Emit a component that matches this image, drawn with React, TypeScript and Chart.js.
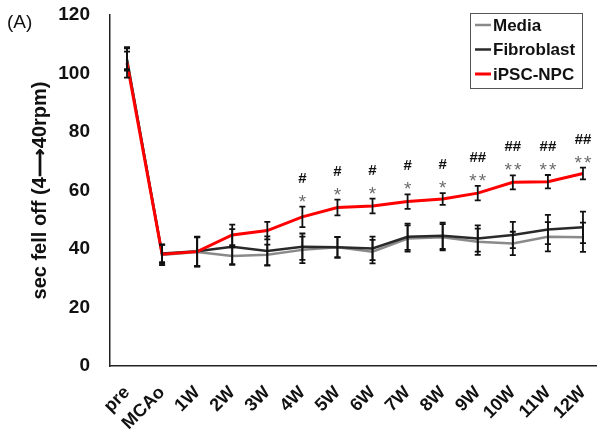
import React, { useEffect, useRef } from "react";
import { Chart, registerables } from "chart.js";

Chart.register(...registerables);

const categories = ["pre", "MCAo", "1W", "2W", "3W", "4W", "5W", "6W", "7W", "8W", "9W", "10W", "11W", "12W"];
const mediaValues = [105, 38, 39, 37.6, 38, 39.7, 40.6, 39.1, 43.6, 44, 42.5, 41.9, 44.2, 44];
const mediaErrors = [4, 3.5, 5, 3, 3.5, 4.5, 3.5, 4, 4.5, 4.5, 4.5, 4, 5, 5];
const fibroblastValues = [104.5, 38.5, 39.2, 40.8, 39.3, 40.8, 40.6, 40.2, 44.2, 44.5, 43.6, 44.8, 46.7, 47.4];
const fibroblastErrors = [3, 3, 5, 6, 5, 4.5, 3.5, 4, 4.5, 4.5, 4.5, 4.5, 5, 5.4];
const ipscValues = [103.6, 38.2, 39.1, 44.8, 46.3, 51.0, 54.2, 54.7, 56.2, 57.1, 59.1, 62.8, 63.0, 65.8];
const ipscErrors = [5, 3.3, 5, 3.5, 3, 3.5, 2.7, 2.5, 2.5, 2, 2.5, 2.4, 2.3, 2];
const starMarks = ["", "", "", "", "", "*", "*", "*", "*", "*", "**", "**", "**", "**"];
const hashMarks = ["", "", "", "", "", "#", "#", "#", "#", "#", "##", "##", "##", "##"];
const yTicks = [0, 20, 40, 60, 80, 100, 120];
const panelLabel = "(A)";
const yTitle = "sec fell off (4\u27F640rpm)";

const FONT = "'Liberation Sans', Arial, sans-serif";

const errorBarPlugin = {
  id: "errorBars",
  afterDatasetsDraw(chart: any) {
    const { ctx } = chart;
    const xs = chart.scales.x;
    const ys = chart.scales.y;
    ctx.save();
    chart.data.datasets.forEach((ds: any) => {
      const errs: number[] = ds.errors || [];
      ds.data.forEach((pt: any, i: number) => {
        const e = errs[i];
        if (e == null) return;
        const x = xs.getPixelForValue(pt.x);
        const yT = ys.getPixelForValue(pt.y + e);
        const yB = ys.getPixelForValue(pt.y - e);
        ctx.strokeStyle = "#111";
        ctx.lineWidth = 1.8;
        ctx.beginPath();
        ctx.moveTo(x, yT);
        ctx.lineTo(x, yB);
        ctx.moveTo(x - 3, yT);
        ctx.lineTo(x + 3, yT);
        ctx.moveTo(x - 3, yB);
        ctx.lineTo(x + 3, yB);
        ctx.stroke();
      });
    });
    ctx.restore();
  },
};

const annotationPlugin = {
  id: "sigMarks",
  afterDraw(chart: any) {
    const { ctx } = chart;
    const xs = chart.scales.x;
    const ys = chart.scales.y;
    ctx.save();
    ctx.textAlign = "center";
    ctx.textBaseline = "alphabetic";
    categories.forEach((_, i) => {
      const x = xs.getPixelForValue(i);
      const top = ys.getPixelForValue(ipscValues[i] + ipscErrors[i]);
      const stars = starMarks[i];
      const hashes = hashMarks[i];
      if (stars) {
        ctx.fillStyle = "#6a6a6a";
        ctx.font = `19px ${FONT}`;
        const n = stars.length;
        for (let k = 0; k < n; k++) {
          ctx.fillText("*", x + (k - (n - 1) / 2) * 9.5, top + 1);
        }
      }
      if (hashes) {
        ctx.fillStyle = "#111";
        ctx.font = `bold 15px ${FONT}`;
        ctx.fillText(hashes, x, top - 24);
      }
    });
    // panel label
    ctx.fillStyle = "#111";
    ctx.font = `19px ${FONT}`;
    ctx.textAlign = "left";
    ctx.textBaseline = "middle";
    ctx.fillText(panelLabel, 7, 23);
    // legend
    const bx = 470, by = 13, bw = 112, bh = 75;
    ctx.strokeStyle = "#555";
    ctx.lineWidth = 1;
    ctx.strokeRect(bx + 0.5, by + 0.5, bw, bh);
    chart.data.datasets.forEach((ds: any, i: number) => {
      const cy = by + 12 + i * 24.5;
      ctx.strokeStyle = ds.borderColor;
      ctx.lineWidth = ds.borderWidth;
      ctx.beginPath();
      ctx.moveTo(bx + 5, cy);
      ctx.lineTo(bx + 21, cy);
      ctx.stroke();
      ctx.fillStyle = "#111";
      ctx.font = `bold 17px ${FONT}`;
      ctx.textAlign = "left";
      ctx.fillText(ds.label, bx + 23, cy + 1);
    });
    ctx.restore();
  },
};

export default function App() {
  const ref = useRef<HTMLCanvasElement>(null);
  useEffect(() => {
    if (!ref.current) return;
    const mk = (vals: number[]) => vals.map((v, i) => ({ x: i, y: v }));
    const chart = new Chart(ref.current, {
      type: "line",
      data: {
        datasets: [
          { label: "Media", data: mk(mediaValues), errors: mediaErrors, borderColor: "#8a8a8a", borderWidth: 2.5, order: 2 } as any,
          { label: "Fibroblast", data: mk(fibroblastValues), errors: fibroblastErrors, borderColor: "#2a2a2a", borderWidth: 2.5, order: 1 } as any,
          { label: "iPSC-NPC", data: mk(ipscValues), errors: ipscErrors, borderColor: "#ff0000", borderWidth: 3, order: 0 } as any,
        ],
      },
      options: {
        animation: false,
        responsive: false,
        maintainAspectRatio: false,
        elements: { point: { radius: 0 }, line: { tension: 0, fill: false } },
        layout: { padding: { top: 0, right: 0, bottom: 0, left: 0 } },
        plugins: { legend: { display: false }, tooltip: { enabled: false } },
        scales: {
          x: {
            type: "linear",
            min: -0.485,
            max: 13.4,
            afterBuildTicks: (s: any) => {
              s.ticks = categories.map((_, i) => ({ value: i }));
            },
            afterFit: (s: any) => {
              s.height = 75;
              s.paddingRight = 0;
            },
            grid: { display: false, drawTicks: false },
            border: { display: true, color: "#222", width: 1.5 },
            ticks: {
              autoSkip: false,
              maxRotation: 45,
              minRotation: 45,
              padding: 16,
              color: "#111",
              font: { family: FONT, size: 18, weight: "bold" },
              callback: (v: any) => categories[v] ?? "",
            },
          },
          y: {
            min: 0,
            max: 120,
            afterBuildTicks: (s: any) => {
              s.ticks = yTicks.map((v) => ({ value: v }));
            },
            afterFit: (s: any) => {
              s.width = 110;
              s.paddingTop = 15;
            },
            grid: { display: false, drawTicks: false },
            border: { display: true, color: "#222", width: 1.5 },
            ticks: {
              padding: 20,
              color: "#111",
              font: { family: FONT, size: 19, weight: "bold" },
            },
            title: {
              display: true,
              text: yTitle,
              color: "#111",
              font: { family: FONT, size: 20, weight: "bold" },
              padding: { top: 28, bottom: 0 },
            },
          },
        },
      },
      plugins: [errorBarPlugin, annotationPlugin],
    } as any);
    return () => chart.destroy();
  }, []);
  return (
    <div style={{ position: "absolute", left: 0, top: 0, width: 597, height: 441, background: "#fff" }}>
      <canvas ref={ref} width={597} height={441} style={{ width: 597, height: 441 }} />
    </div>
  );
}
